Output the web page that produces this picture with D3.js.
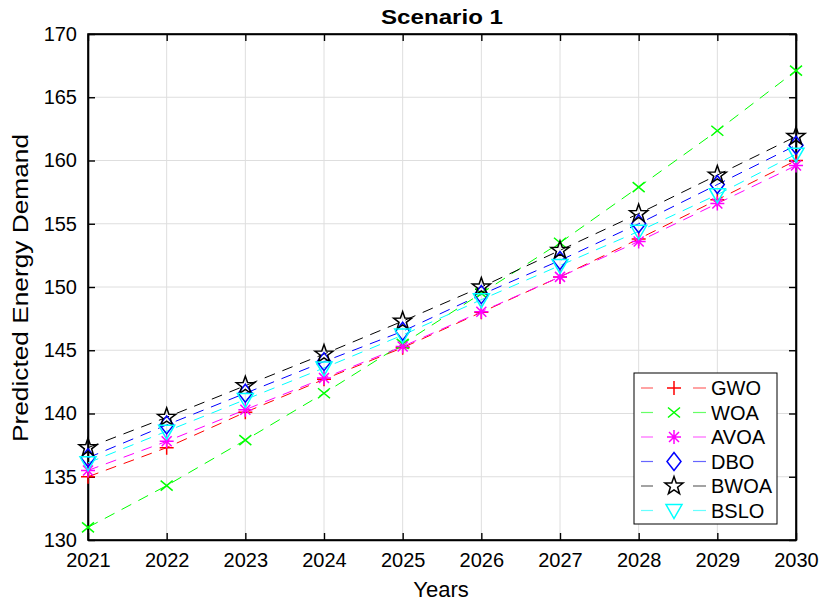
<!DOCTYPE html>
<html><head><meta charset="utf-8">
<script src="https://cdn.jsdelivr.net/npm/d3@7"></script>
<style>body{margin:0;background:#fff}svg{display:block;font-family:"Liberation Sans",Arial,sans-serif}</style>
</head><body><svg id="c" width="820" height="603"></svg>
<script>
const years = [2021,2022,2023,2024,2025,2026,2027,2028,2029,2030];
const GWO  = [135.0,137.3,140.1,142.7,145.2,148.0,150.8,153.8,156.9,160.0];
const WOA  = [131.0,134.3,137.9,141.6,145.5,149.5,153.5,157.9,162.35,167.1];
const AVOA = [135.5,137.8,140.3,142.8,145.3,148.05,150.8,153.6,156.6,159.6];
const DBO  = [136.5,139.1,141.6,144.1,146.5,149.4,152.1,155.0,158.1,161.2];
const BWOA = [137.3,139.7,142.2,144.7,147.3,150.0,152.9,155.8,158.85,161.9];
const BSLO = [136.1,138.6,141.1,143.6,146.2,149.0,151.7,154.4,157.3,160.5];
const seriesNames = ["GWO","WOA","AVOA","DBO","BWOA","BSLO"];
const seriesValues = [GWO,WOA,AVOA,DBO,BWOA,BSLO];
const seriesColors = ["#ff0000","#00ff00","#ff00ff","#0000ff","#000000","#00ffff"];
const seriesMarkers = ["plus","x","asterisk","diamond","star","triangleDown"];
const yTicks = [130,135,140,145,150,155,160,165,170];
const titleText = "Scenario 1", xLabel = "Years", yLabel = "Predicted Energy Demand";

const svg = d3.select("#c");
const L=88, R=796, T=34, B=540;
const x = d3.scaleLinear().domain([2021,2030]).range([L,R]);
const y = d3.scaleLinear().domain([130,170]).range([B,T]);

// grid
const g = svg.append("g");
g.selectAll(".gx").data(years).enter().append("line")
 .attr("x1",d=>x(d)).attr("x2",d=>x(d)).attr("y1",T).attr("y2",B)
 .attr("stroke","#dedede").attr("stroke-width",1);
g.selectAll(".gy").data(yTicks).enter().append("line")
 .attr("x1",L).attr("x2",R).attr("y1",d=>y(d)).attr("y2",d=>y(d))
 .attr("stroke","#dedede").attr("stroke-width",1);

// axes
const fs = "20px";
const xa = svg.append("g").attr("transform",`translate(0,${B})`)
 .call(d3.axisBottom(x).tickValues(years).tickFormat(d3.format("d")).tickSizeInner(-7).tickSizeOuter(0).tickPadding(13));
const xt = svg.append("g").attr("transform",`translate(0,${T})`)
 .call(d3.axisTop(x).tickValues(years).tickFormat("").tickSizeInner(-7).tickSizeOuter(0));
const ya = svg.append("g").attr("transform",`translate(${L},0)`)
 .call(d3.axisLeft(y).tickValues(yTicks).tickSizeInner(-7).tickSizeOuter(0).tickPadding(11));
const yr = svg.append("g").attr("transform",`translate(${R},0)`)
 .call(d3.axisRight(y).tickValues(yTicks).tickFormat("").tickSizeInner(-7).tickSizeOuter(0));
[xa,xt,ya,yr].forEach(a=>{
  a.attr("font-size",null).attr("font-family",null);
  a.selectAll("path").attr("stroke","#000").attr("stroke-width",1.6);
  a.selectAll("line").attr("stroke","#000").attr("stroke-width",1.4);
  a.selectAll("text").attr("fill","#000").style("font-size",fs).style("font-family","'Liberation Sans', Arial, sans-serif");
});
svg.append("rect").attr("x",L).attr("y",T).attr("width",R-L).attr("height",B-T)
 .attr("fill","none").attr("stroke","#000").attr("stroke-width",1.6);

// markers
function marker(sel, type, color, cx, cy){
  const s = sel.append("g").attr("transform",`translate(${cx},${cy})`)
    .attr("fill","none").attr("stroke",color).attr("stroke-width",1.5);
  if(type==="plus"){ s.append("path").attr("d","M-7,0H7M0,-7V7"); }
  else if(type==="x"){ s.append("path").attr("d","M-6,-5L6,5M-6,5L6,-5"); }
  else if(type==="asterisk"){ s.append("path").attr("d","M-7,0H7M0,-7V7M-5,-5L5,5M-5,5L5,-5"); }
  else if(type==="diamond"){ s.append("path").attr("d","M0,-9L7,0L0,9L-7,0Z"); }
  else if(type==="star"){
    const pts=[]; for(let i=0;i<10;i++){const r=i%2?3.8:9.5;const a=-Math.PI/2+i*Math.PI/5;pts.push([r*Math.cos(a),r*Math.sin(a)]);}
    s.append("path").attr("d","M"+pts.map(p=>p.join(",")).join("L")+"Z");
  }
  else if(type==="triangleDown"){ s.append("path").attr("d","M-8,-6L8,-6L0,8Z"); }
}

const line = d3.line().x((d,i)=>x(years[i])).y(d=>y(d));
const plot = svg.append("g");
seriesValues.forEach((vals,k)=>{
  plot.append("path").datum(vals).attr("d",line).attr("fill","none")
   .attr("stroke",seriesColors[k]).attr("stroke-width",1).attr("stroke-dasharray","11,8");
});
seriesValues.forEach((vals,k)=>{
  vals.forEach((v,i)=>marker(plot, seriesMarkers[k], seriesColors[k], x(years[i]), y(v)));
});

// title & labels
svg.append("text").attr("x",442).attr("y",24).attr("text-anchor","middle")
 .attr("textLength",122).attr("lengthAdjust","spacingAndGlyphs")
 .style("font-size","21px").style("font-weight","bold").text(titleText);
svg.append("text").attr("x",441).attr("y",597).attr("text-anchor","middle")
 .style("font-size","22px").text(xLabel);
svg.append("text").attr("transform","translate(28,288) rotate(-90)").attr("text-anchor","middle")
 .attr("textLength",308).attr("lengthAdjust","spacingAndGlyphs")
 .style("font-size","22px").text(yLabel);

// legend
const lg = svg.append("g");
lg.append("rect").attr("x",634).attr("y",373).attr("width",143).attr("height",151)
 .attr("fill","#fff").attr("stroke","#000").attr("stroke-width",1);
seriesNames.forEach((n,k)=>{
  const yy = 388 + k*24.5;
  lg.append("line").attr("x1",641).attr("x2",653).attr("y1",yy).attr("y2",yy).attr("stroke",seriesColors[k]).attr("stroke-opacity",0.6).attr("stroke-width",1.2);
  lg.append("line").attr("x1",693).attr("x2",706).attr("y1",yy).attr("y2",yy).attr("stroke",seriesColors[k]).attr("stroke-opacity",0.6).attr("stroke-width",1.2);
  marker(lg, seriesMarkers[k], seriesColors[k], 674, yy);
  lg.append("text").attr("x",711).attr("y",yy+7).style("font-size","20px").text(n);
});
</script></body></html>
